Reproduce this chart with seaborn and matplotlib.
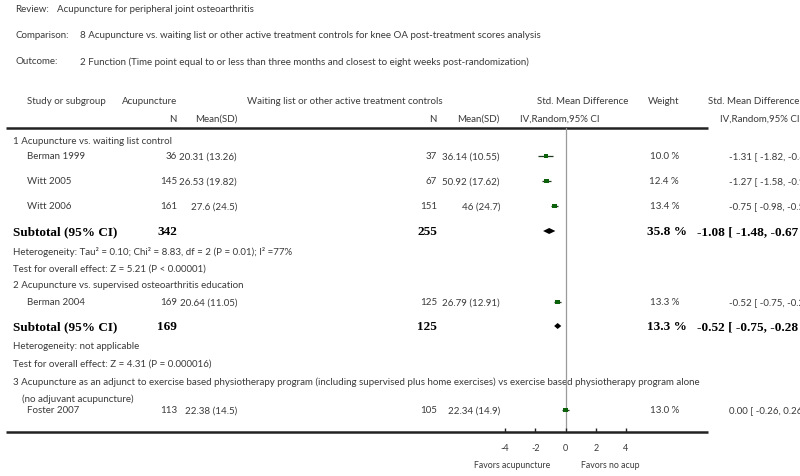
import matplotlib

matplotlib.use("Agg")
import matplotlib.pyplot as plt  # noqa: E402
import pandas as pd  # noqa: E402
import seaborn as sns  # noqa: E402

# ---- data -----------------------------------------------------------------
review = "Acupuncture for peripheral joint osteoarthritis"
comparison = ("8 Acupuncture vs. waiting list or other active treatment controls "
              "for knee OA post-treatment scores analysis")
outcome = ("2 Function (Time point equal to or less than three months and "
           "closest to eight weeks post-randomization)")

studies = ["Berman 1999", "Witt 2005", "Witt 2006", "Berman 2004", "Foster 2007"]
acu_n = [36, 145, 161, 169, 113]
acu_mean = [20.31, 26.53, 27.6, 20.64, 22.38]
acu_sd = [13.26, 19.82, 24.5, 11.05, 14.5]
ctl_n = [37, 67, 151, 125, 105]
ctl_mean = [36.14, 50.92, 46, 26.79, 22.34]
ctl_sd = [10.55, 17.62, 24.7, 12.91, 14.9]
smd = [-1.31, -1.27, -0.75, -0.52, 0.00]
smd_lo = [-1.82, -1.58, -0.98, -0.75, -0.26]
smd_hi = [-0.80, -0.96, -0.52, -0.28, 0.26]
weight = [10.0, 12.4, 13.4, 13.3, 13.0]

sub_acu_n = [342, 169]
sub_ctl_n = [255, 125]
sub_weight = [35.8, 13.3]
sub_smd = [-1.08, -0.52]
sub_lo = [-1.48, -0.75]
sub_hi = [-0.67, -0.28]

groups = [
    "1 Acupuncture vs. waiting list control",
    "2 Acupuncture vs. supervised osteoarthritis education",
    "3 Acupuncture as an adjunct to exercise based physiotherapy program (including "
    "supervised plus home exercises) vs exercise based physiotherapy program alone",
]
group3_cont = "(no adjuvant acupuncture)"
heterogeneity = [
    "Heterogeneity: Tau² = 0.10; Chi² = 8.83, df = 2 (P = 0.01); I² =77%",
    "Heterogeneity: not applicable",
]
overall = [
    "Test for overall effect: Z = 5.21 (P < 0.00001)",
    "Test for overall effect: Z = 4.31 (P = 0.000016)",
]
xticks = [-4, -2, 0, 2, 4]

# ---- layout (pixel rows) --------------------------------------------------
W, H = 800, 477
study_y = [157, 182, 207, 303, 411]
sub_y = [232, 327]
group_y = [142, 286, 382]
het_y = [252, 347]
test_y = [269, 364]
top_line, bottom_line = 129, 433

TXT = "#3a3a3a"
FS = 7.0
sns.set_style("white")
plt.rcParams["font.family"] = ["Lato", "DejaVu Sans"]


def num(v):
    return f"{v:g}"


def ci(m, lo, hi):
    return f"{m:.2f} [ {lo:.2f}, {hi:.2f} ]"


fig = plt.figure(figsize=(W / 100, H / 100), dpi=100)
ax = fig.add_axes([0, 0, 1, 1])
ax.set_xlim(0, W)
ax.set_ylim(H, 0)
ax.axis("off")


def t(x, y, s, ha="left", **kw):
    kw.setdefault("fontsize", FS)
    kw.setdefault("color", TXT)
    ax.text(x, y, s, ha=ha, va="center", **kw)


# header block
t(15, 10, "Review:")
t(57, 10, review)
t(15, 36, "Comparison:")
t(80, 36, comparison)
t(15, 62, "Outcome:")
t(80, 62, outcome)

# column headings
t(27, 101, "Study or subgroup")
t(122, 101, "Acupuncture")
t(177, 119, "N", ha="right")
t(237, 119, "Mean(SD)", ha="right")
t(247, 101, "Waiting list or other active treatment controls")
t(437, 119, "N", ha="right")
t(500, 119, "Mean(SD)", ha="right")
t(537, 101, "Std. Mean Difference")
t(520, 119, "IV,Random,95% CI")
t(648, 101, "Weight")
t(708, 101, "Std. Mean Difference")
t(720, 119, "IV,Random,95% CI")

for yl in (top_line, bottom_line):
    ax.plot([6, 708], [yl, yl], color="#222222", lw=1.8, solid_capstyle="butt")

# study rows
for i, name in enumerate(studies):
    y = study_y[i]
    t(27, y, name)
    t(177, y, str(acu_n[i]), ha="right")
    t(237, y, f"{num(acu_mean[i])} ({num(acu_sd[i])})", ha="right")
    t(437, y, str(ctl_n[i]), ha="right")
    t(500, y, f"{num(ctl_mean[i])} ({num(ctl_sd[i])})", ha="right")
    t(679, y, f"{weight[i]:.1f} %", ha="right")
    t(729, y, ci(smd[i], smd_lo[i], smd_hi[i]))

for i, g in enumerate(groups):
    t(13, group_y[i], g)
t(22, 399, group3_cont)

bold = dict(fontsize=9.5, color="black", fontweight="bold", family="Liberation Serif")
for i in range(2):
    y = sub_y[i]
    t(13, y, "Subtotal (95% CI)", **bold)
    t(177, y, str(sub_acu_n[i]), ha="right", **bold)
    t(437, y, str(sub_ctl_n[i]), ha="right", **bold)
    t(687, y, f"{sub_weight[i]:.1f} %", ha="right", **bold)
    t(697, y, ci(sub_smd[i], sub_lo[i], sub_hi[i]), **bold)
    t(13, het_y[i], heterogeneity[i])
    t(13, test_y[i], overall[i])

t(550, 466, "Favors acupuncture", ha="right", fontsize=6.3)
t(581, 466, "Favors no acup", fontsize=6.3)

# ---- forest panel ---------------------------------------------------------
x0, x1 = 505, 626
axf = fig.add_axes([x0 / W, (H - bottom_line) / H, (x1 - x0) / W,
                    (bottom_line - top_line) / H])
axf.set_xlim(min(xticks), max(xticks))
axf.set_ylim(bottom_line, top_line)
axf.patch.set_alpha(0)
for sp in axf.spines.values():
    sp.set_visible(False)

axf.axvline(0, color="#9a9a9a", lw=0.9, zorder=0)
axf.hlines(study_y, smd_lo, smd_hi, color="#1f3a1f", lw=0.9, zorder=1)

df = pd.DataFrame({"smd": smd, "y": study_y, "weight": weight})
sns.scatterplot(data=df, x="smd", y="y", size="weight", sizes=(7, 12),
                marker="s", color="#0b620b", linewidth=0, legend=False,
                ax=axf, zorder=2)

for i in range(2):
    y = sub_y[i]
    axf.fill([sub_lo[i], sub_smd[i], sub_hi[i], sub_smd[i]],
             [y, y - 3, y, y + 3], color="black", lw=0, zorder=2)

axf.set_xticks(xticks)
axf.set_xticklabels([str(v) for v in xticks])
axf.set_yticks([])
axf.set_xlabel("")
axf.set_ylabel("")
axf.tick_params(axis="x", direction="in", length=3, width=1, colors="#222222",
                labelcolor=TXT, labelsize=6.5, pad=8, bottom=True)

fig.savefig("out.png", dpi=100)
